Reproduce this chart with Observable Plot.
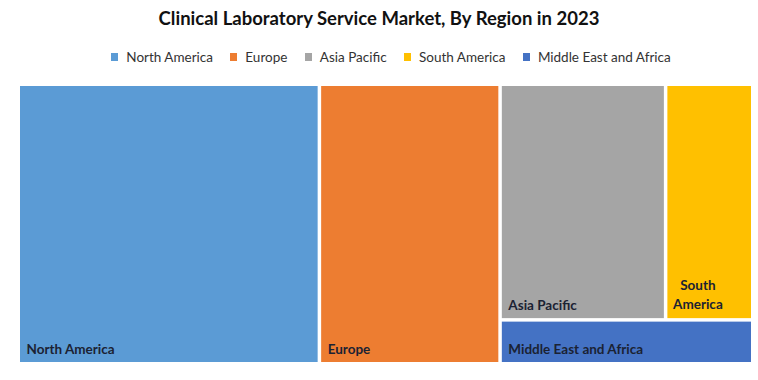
<!DOCTYPE html>
<html>
<head>
<meta charset="utf-8">
<script src="https://cdn.jsdelivr.net/npm/d3@7"></script>
<script src="https://cdn.jsdelivr.net/npm/@observablehq/plot@0.6"></script>
<style>
  html, body { margin: 0; padding: 0; background: #fff; }
  body { width: 758px; height: 380px; overflow: hidden; font-family: Lato, "Open Sans", sans-serif; }
  #title { height: 36px; line-height: 36px; text-align: center; font-weight: bold; font-size: 18.5px; color: #111; }
  #legend { height: 42px; display: flex; justify-content: center; align-items: center; padding-left: 24px; box-sizing: border-box; font-size: 13.5px; color: #333; }
  .item { display: flex; align-items: center; margin: 0 8.7px; }
  .sw { width: 7px; height: 8px; margin-right: 8px; }
  svg { display: block; }
</style>
</head>
<body>
<div id="title">Clinical Laboratory Service Market, By Region in 2023</div>
<div id="legend"></div>
<div id="chart"></div>
<script>
// Data
const regions = ["North America", "Europe", "Asia Pacific", "South America", "Middle East and Africa"];
const shares = [41.0, 24.6, 19.0, 10.0, 5.4];
const labels = ["North America", "Europe", "Asia Pacific", "South\nAmerica", "Middle East and Africa"];
const colors = ["#5B9BD5", "#ED7D31", "#A5A5A5", "#FFC000", "#4472C4"];

// Legend
const legend = document.getElementById("legend");
regions.forEach((r, i) => {
  const it = document.createElement("div");
  it.className = "item";
  const sw = document.createElement("span");
  sw.className = "sw";
  sw.style.background = colors[i];
  const tx = document.createElement("span");
  tx.textContent = r;
  it.appendChild(sw); it.appendChild(tx);
  legend.appendChild(it);
});

// Treemap layout: grouping as in the reference (columns, then rows)
const leaf = i => ({name: regions[i], value: shares[i], label: labels[i]});
const tree = {children: [
  leaf(0),
  leaf(1),
  {children: [
    {children: [leaf(2), leaf(3)]},
    leaf(4)
  ]}
]};
const W = 731, H = 276;
const root = d3.hierarchy(tree).sum(d => d.value || 0);
d3.treemap().tile(d3.treemapSliceDice).size([W, H]).paddingInner(3.5)(root);
const cells = root.leaves().map(d => ({
  name: d.data.name, label: d.data.label,
  x0: d.x0, x1: d.x1, y0: d.y0, y1: d.y1
}));

const chart = Plot.plot({
  width: 758,
  height: 302,
  marginTop: 8,
  marginBottom: 18,
  marginLeft: 20,
  marginRight: 7,
  x: {domain: [0, W], axis: null},
  y: {domain: [0, H], reverse: true, axis: null},
  color: {domain: regions, range: colors},
  style: {fontFamily: "Lato, 'Open Sans', sans-serif", background: "#fff"},
  marks: [
    Plot.rect(cells, {x1: "x0", x2: "x1", y1: "y0", y2: "y1", fill: "name"}),
    Plot.text(cells.filter(d => !d.label.includes("\n")), {
      x: "x0", y: "y1", text: "label", textAnchor: "start", dx: 6, dy: -13,
      fontWeight: "bold", fontSize: 13.5, fill: "#1b2233"
    }),
    Plot.text(cells.filter(d => d.label.includes("\n")), {
      x: "x0", y: "y1", text: "label", textAnchor: "middle", dx: 30, dy: -25,
      lineHeight: 1.35, fontWeight: "bold", fontSize: 13.5, fill: "#1b2233"
    })
  ]
});
document.getElementById("chart").appendChild(chart);
</script>
</body>
</html>
